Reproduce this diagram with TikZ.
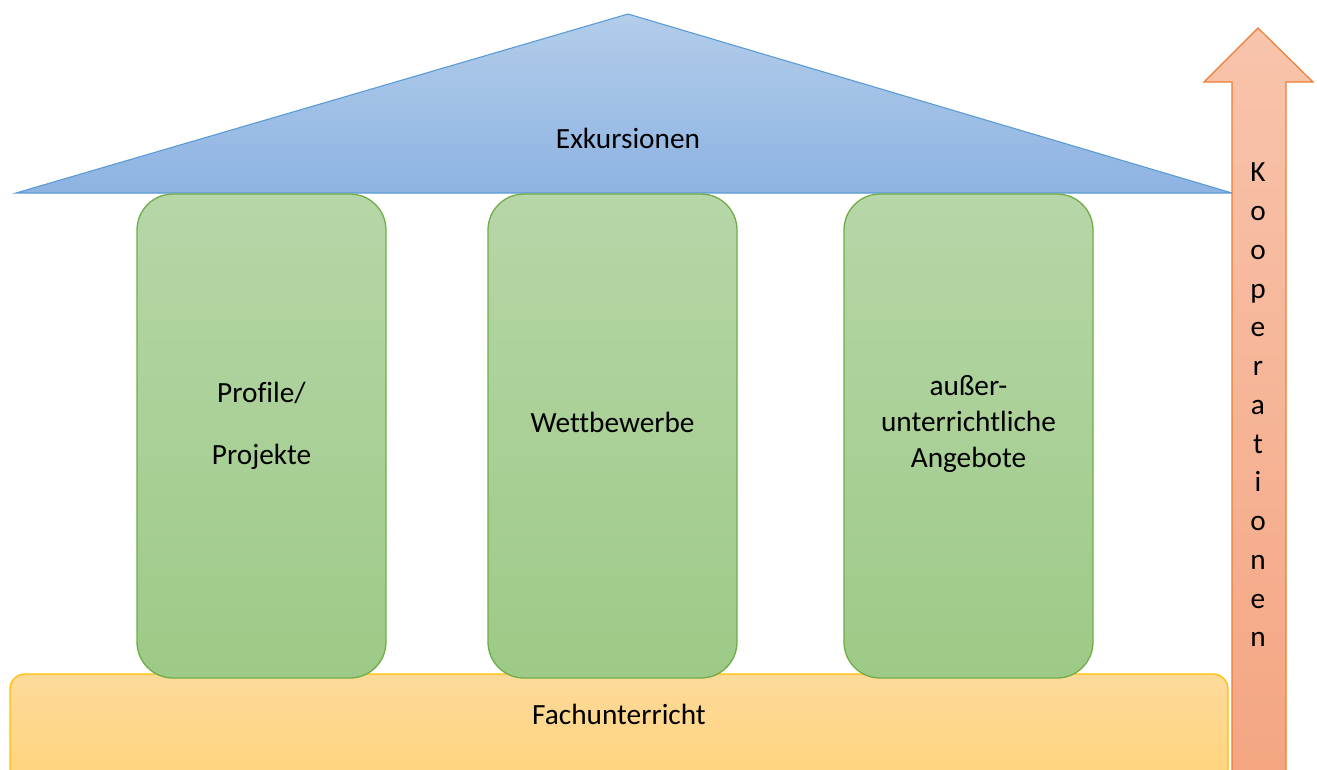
\documentclass[tikz,border=0pt]{standalone}
\usepackage{fontspec}
\setmainfont[Ligatures=NoCommon]{Carlito}
\definecolor{roofTop}{HTML}{B3CDEA}
\definecolor{roofBot}{HTML}{8DB3E2}
\definecolor{roofLine}{HTML}{5B9BD5}
\definecolor{pilTop}{HTML}{B6D6A8}
\definecolor{pilBot}{HTML}{9DCA86}
\definecolor{pilLine}{HTML}{70AD47}
\definecolor{baseTop}{HTML}{FEDA9A}
\definecolor{baseBot}{HTML}{FFD47C}
\definecolor{baseLine}{HTML}{FFC000}
\definecolor{arrTop}{HTML}{F8C4AC}
\definecolor{arrBot}{HTML}{F4A581}
\definecolor{arrLine}{HTML}{ED7D31}
\begin{document}
\begin{tikzpicture}[x=1pt,y=-1pt,
  roofstyle/.style={draw=roofLine,line width=1.1pt,top color=roofTop,bottom color=roofBot,line join=miter},
  pillar/.style={draw=pilLine,line width=1.3pt,top color=pilTop,bottom color=pilBot,rounded corners=36pt},
  basestyle/.style={draw=baseLine,line width=1.3pt,top color=baseTop,bottom color=baseBot,rounded corners=15pt},
  arrowstyle/.style={draw=arrLine,line width=1.2pt,top color=arrTop,bottom color=arrBot,line join=miter},
  lbl/.style={font=\fontsize{29.3}{36}\selectfont,align=center,text=black,inner sep=0pt}]
\useasboundingbox (0,0) rectangle (1317,769);
% roof
\draw[roofstyle] (16,193) -- (628,14) -- (1232,193) -- cycle;
\node[lbl] (roof) at (628,138) {Exkursionen};
% base
\draw[basestyle] (10,674) rectangle (1228,784);
\node[lbl] (base) at (619,714) {Fachunterricht};
% pillars
\draw[pillar] (137,194) rectangle (386,678);
\draw[pillar] (488,194) rectangle (737,678);
\draw[pillar] (844,194) rectangle (1093,678);
\node[lbl] (p1) at (261.5,426) {Profile/\\[26pt]Projekte};
\node[lbl] (p2) at (612.5,422) {Wettbewerbe};
\node[lbl] (p3) at (968.5,424) {außer-\\unterrichtliche\\Angebote};
% arrow
\draw[arrowstyle] (1232,790) -- (1232,82) -- (1204,82) -- (1258,28) -- (1313,82) -- (1286,82) -- (1286,790);
\node[lbl,font=\fontsize{29.3}{38.75}\selectfont] (koop) at (1258,405)
  {K\\o\\o\\p\\e\\r\\a\\t\\i\\o\\n\\e\\n};
\end{tikzpicture}
\end{document}
